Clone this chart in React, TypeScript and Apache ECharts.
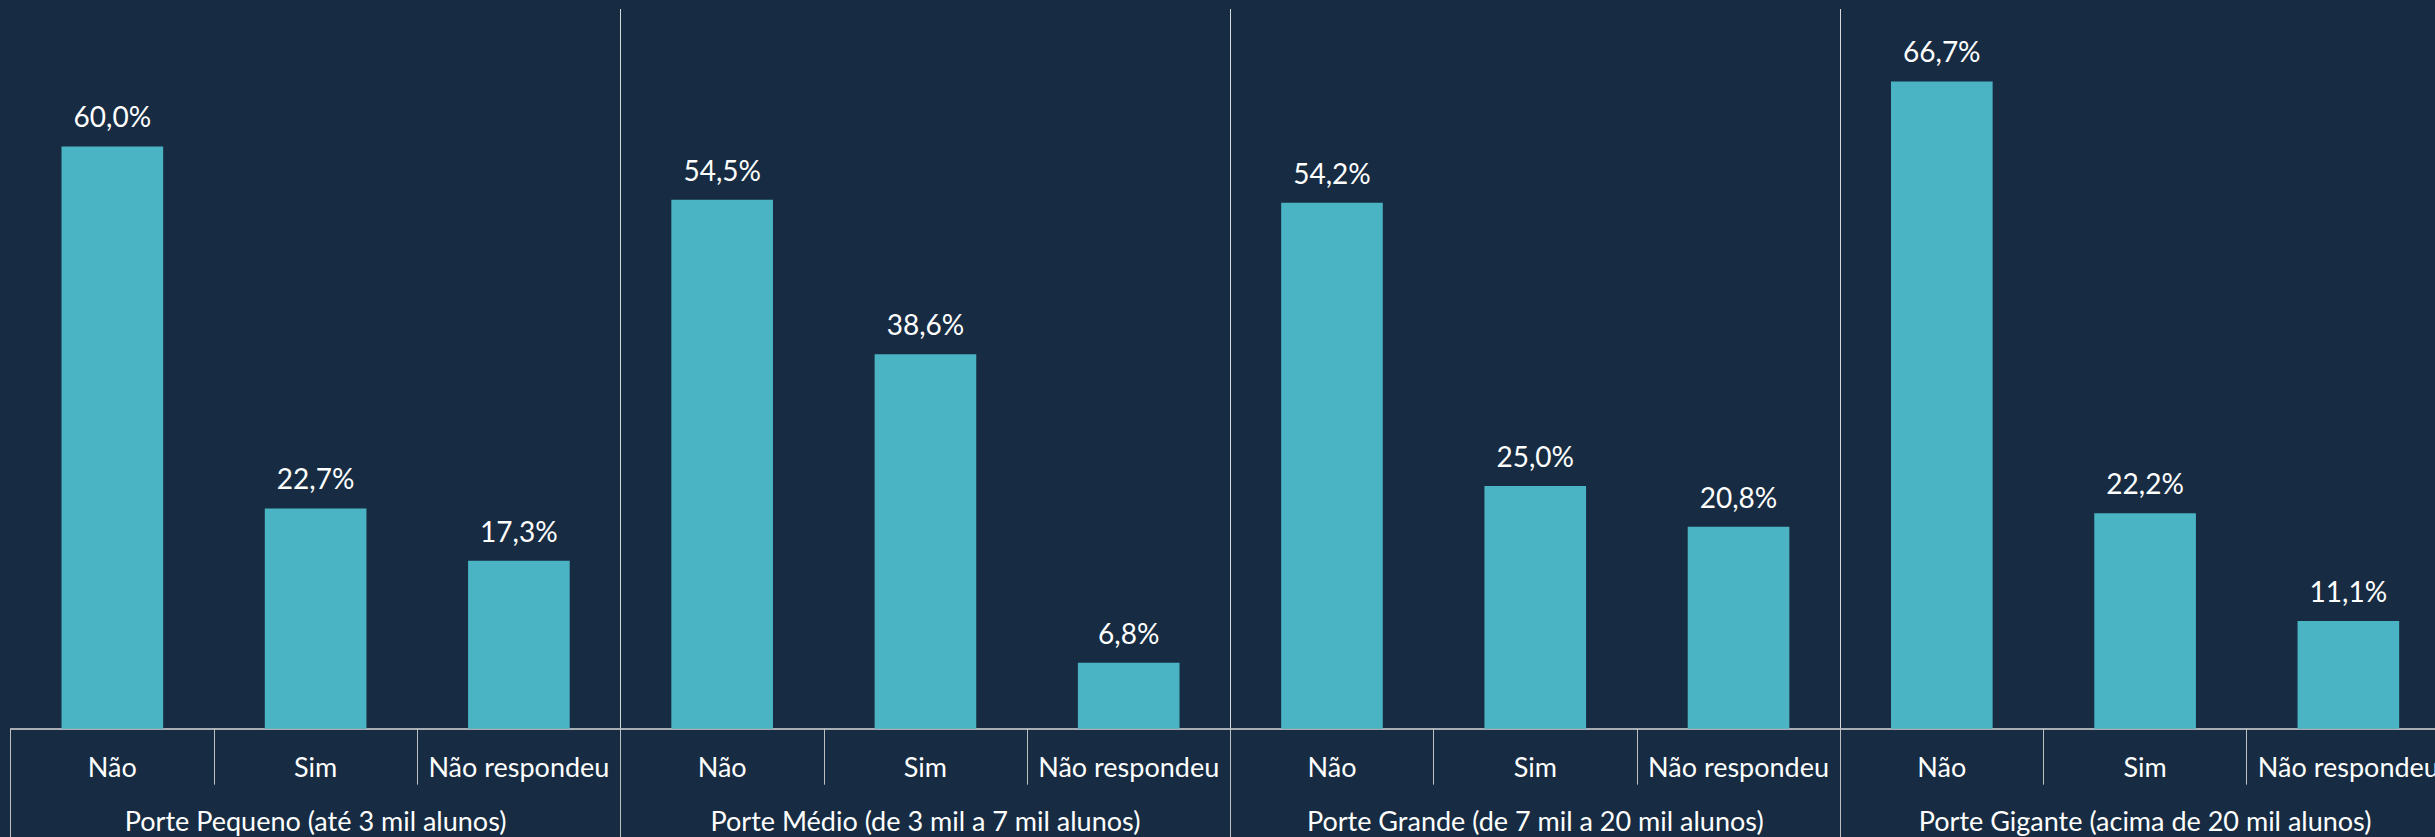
import React, { useEffect, useRef } from "react";
import * as echarts from "echarts";

const answers = ["Não", "Sim", "Não respondeu"];
const groups = [
  "Porte Pequeno (até 3 mil alunos)",
  "Porte Médio (de 3 mil a 7 mil alunos)",
  "Porte Grande (de 7 mil a 20 mil alunos)",
  "Porte Gigante (acima de 20 mil alunos)",
];
const pequeno = [60.0, 22.7, 17.3];
const medio = [54.5, 38.6, 6.8];
const grande = [54.2, 25.0, 20.8];
const gigante = [66.7, 22.2, 11.1];

const categories = groups.flatMap(() => answers);
const values = [...pequeno, ...medio, ...grande, ...gigante];

const BG = "#172c42";
const BAR = "#4ab4c4";
const FONT = "Lato, 'Open Sans', sans-serif";

export default function App() {
  const ref = useRef<HTMLDivElement>(null);
  useEffect(() => {
    if (!ref.current) return;
    const chart = echarts.init(ref.current, undefined, { renderer: "svg" });
    chart.setOption({
      animation: false,
      backgroundColor: BG,
      grid: { left: 10.7, width: 2439.3, top: 9, bottom: 108.3 },
      xAxis: [
        {
          type: "category",
          data: categories,
          position: "bottom",
          axisLine: { show: true, lineStyle: { color: "#d9d9d9", width: 1.5 } },
          axisTick: { show: true, length: 56, lineStyle: { color: "#bfbfbf", width: 1 } },
          axisLabel: { interval: 0, color: "#ffffff", fontFamily: FONT, fontSize: 27, margin: 24 },
          splitLine: { show: false },
        },
        {
          type: "category",
          data: groups,
          position: "bottom",
          axisLine: { show: false },
          axisTick: { show: true, length: 108.3, lineStyle: { color: "#bfbfbf", width: 1 } },
          axisLabel: { interval: 0, color: "#ffffff", fontFamily: FONT, fontSize: 27, margin: 78 },
          splitLine: {
            show: true,
            interval: (index: number) => index !== 0,
            lineStyle: { color: "#d9d9d9", width: 1 },
          },
        },
      ],
      yAxis: { type: "value", min: 0, max: 74.17, show: false, splitLine: { show: false } },
      series: [
        {
          type: "bar",
          xAxisIndex: 0,
          data: values,
          barWidth: "50%",
          itemStyle: { color: BAR },
          label: {
            show: true,
            position: "top",
            distance: 16,
            color: "#ffffff",
            fontFamily: FONT,
            fontSize: 28,
            formatter: (p: any) => p.value.toFixed(1).replace(".", ",") + "%",
          },
        },
      ],
    });
    return () => chart.dispose();
  }, []);
  return (
    <div
      style={{
        position: "fixed",
        left: 0,
        top: 0,
        width: 2435,
        height: 837,
        overflow: "hidden",
        background: BG,
      }}
    >
      <div ref={ref} style={{ width: 2470, height: 837 }} />
    </div>
  );
}
